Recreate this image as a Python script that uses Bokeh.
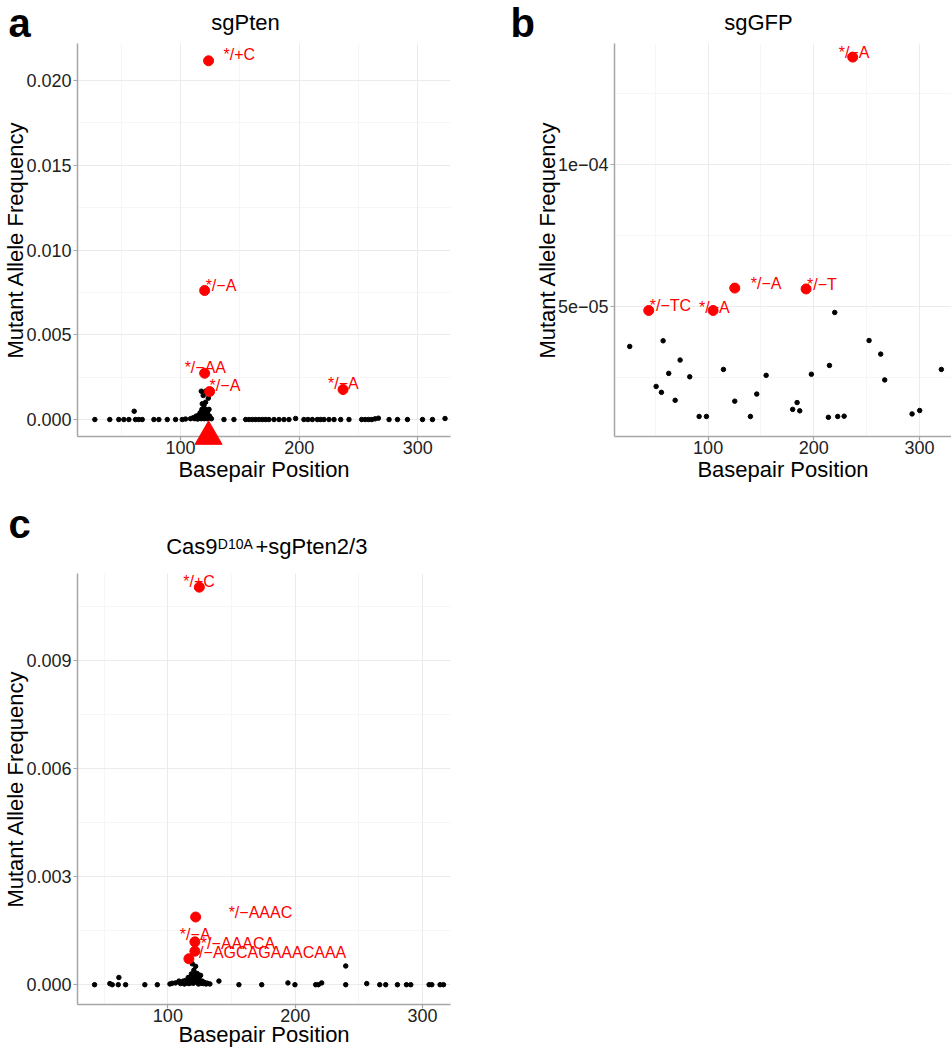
from bokeh.plotting import figure
from bokeh.layouts import column, row
from bokeh.models import ColumnDataSource, LabelSet, FixedTicker, Range1d, PrintfTickFormatter
from bokeh.core.properties import value
from bokeh.embed import file_html
from bokeh.resources import INLINE

FONT = "Liberation Sans"
RED = "#FF0000"

# ---------------- data ----------------
# panel a: sgPten
a_bg_x = [27.7, 40.3, 47.9, 52.2, 56.4, 60.9, 62.0, 64.8, 67.7, 77.5, 81.7, 88.8, 95.8, 101.4, 104.2, 108.4,
          136.6, 145.0, 154.9, 157.7, 160.5, 163.3, 166.1, 168.9, 171.7, 174.5, 178.8, 183.0, 187.2, 191.4,
          197.0, 204.0, 207.4, 211.1, 215.3, 218.1, 220.9, 225.1, 229.4, 235.0, 242.0, 252.7, 255.6, 258.4,
          261.2, 264.0, 266.8, 275.8, 282.9, 291.3, 304.0, 312.4, 323.0,
          110.5, 112.0, 113.0, 114.0, 114.5, 115.0, 116.0, 116.5, 117.0, 117.5, 118.0, 118.0, 118.5, 119.0,
          119.5, 120.0, 120.0, 120.5, 121.0, 121.0, 121.5, 122.0, 122.5, 123.0, 123.0, 123.5, 124.0, 124.5,
          125.0, 126.0, 117.5, 121.1, 119.1, 123.4, 121.1, 118.3, 119.7]
a_bg_y = [0, 0, 0, 0, 0, 0.00049, 0, 0, 0, 0, 0, 0, 0, 0, 0.00003, 0.00005,
          0, 0, 0, 0, 0, 0, 0, 0, 0, 0, 0, 0, 0, 0,
          0.00006, 0, 0, 0, 0, 0, 0, 0, 0, 0, 0, 0, 0, 0,
          0, 0.00004, 0.00008, 0, 0, 0, 0, 0, 0.00006,
          0.0001, 0.00005, 0.0002, 0.0001, 0.00003, 0.00025, 0.0001, 0.0004, 0.0002, 0.00005, 0.0006, 0.0003, 0.0001, 0.0004,
          0.0002, 0.0005, 0.00005, 0.0003, 0.0006, 0.0001, 0.0004, 0.0002, 0.00005, 0.0005, 0.0003, 0.0001, 0.0006, 0.0002,
          0.0001, 0.00005, 0.00167, 0.00167, 0.00142, 0.00126, 0.00102, 0.00093, 0.00083]
a_hit_x = [123.6, 120.3, 120.3, 124.5, 237.0]
a_hit_y = [0.02116, 0.00761, 0.00273, 0.00165, 0.00177]
a_hit_lab = ["*/+C", "*/\u2212A", "*/\u2212AA", "*/\u2212A", "*/\u2212A"]
a_cut_x = [123.6]
a_cut_y = [-0.001]
a_yticks = [0.0, 0.005, 0.010, 0.015, 0.020]

# panel b: sgGFP
b_bg_x = [25.8, 57.4, 73.5, 62.7, 82.6, 50.8, 55.8, 68.8, 91.5, 98.4, 114.5, 125.2, 140.0, 146.0, 154.9,
          180.0, 184.2, 186.7, 197.7, 213.8, 214.8, 219.8, 222.6, 228.7, 252.3, 263.3, 267.1, 293.0, 300.2, 320.7]
b_bg_y = [3.59e-5, 3.79e-5, 3.11e-5, 2.64e-5, 2.52e-5, 2.18e-5, 1.97e-5, 1.69e-5, 1.12e-5, 1.12e-5, 2.78e-5,
          1.66e-5, 1.12e-5, 1.91e-5, 2.57e-5, 1.37e-5, 1.61e-5, 1.32e-5, 2.61e-5, 1.09e-5, 2.92e-5, 4.79e-5,
          1.12e-5, 1.13e-5, 3.8e-5, 3.32e-5, 2.41e-5, 1.21e-5, 1.33e-5, 2.78e-5]
b_hit_x = [236.8, 43.8, 104.7, 125.2, 192.7]
b_hit_y = [1.38e-4, 4.86e-5, 4.86e-5, 5.65e-5, 5.62e-5]
b_hit_lab = ["*/\u2212A", "*/\u2212TC", "*/\u2212A", "*/\u2212A", "*/\u2212T"]
b_yticks = [5e-05, 1e-04]
b_ytick_labels = ["5e\u221205", "1e\u221204"]

# panel c: Cas9 D10A + sgPten2/3
c_bg_x = [42.4, 54.4, 56.3, 61.0, 61.5, 66.8, 81.9, 91.7, 140.1, 155.8, 173.7, 194.3, 199.8, 216.1, 218.2,
          220.8, 239.7, 239.7, 256.2, 266.4, 271.1, 280.3, 287.4, 290.8, 305.2, 307.3, 313.8, 316.5,
          101.6, 103.4, 106.0, 108.7, 110.0, 111.0, 112.0, 113.0, 114.0, 115.0, 116.0, 116.5, 117.0, 117.8,
          118.0, 118.5, 119.0, 119.2, 119.5, 120.0, 120.4, 121.0, 121.5, 121.8, 122.0, 122.5, 123.1, 123.5,
          124.0, 124.5, 125.0, 125.7, 126.0, 127.0, 128.0, 129.0, 130.0, 131.0, 133.0]
c_bg_y = [0, 0.00003, 0, 0, 0.0002, 0, 0, 0, 0.0001, 0, 0, 0.00005, 0, 0, 0,
          0.00005, 0.00052, 0, 0.00003, 0, 0, 0, 0, 0, 0, 0, 0, 0,
          0.00002, 0.00004, 0.00005, 0.0001, 0.00003, 0.00006, 0.0001, 0.00002, 0.00012, 0.00005, 0.0002, 0.00003, 0.0001, 0.00021,
          0.00005, 0.0003, 0.0001, 0.00058, 0.0002, 0.00004, 0.0004, 0.00015, 0.0003, 0.00051, 0.00008, 0.0002, 0.00031, 0.0001,
          0.00002, 0.0002, 0.00009, 0.00026, 0.00004, 0.0001, 0.00003, 0.00006, 0.00002, 0.00004, 0.00002]
c_hit_x = [124.7, 121.8, 121.2, 121.2, 116.5]
c_hit_y = [0.01104, 0.00188, 0.00119, 0.00093, 0.00072]
c_hit_lab = ["*/+C", "*/\u2212AAAC", "*/\u2212A", "*/\u2212AAACA", "*/\u2212AGCAGAAACAAA"]
c_yticks = [0.0, 0.003, 0.006, 0.009]

x_ticks = [100, 200, 300]
x_minor = [50, 150, 250]

titles = ["sgPten", "sgGFP"]
title_c = ["Cas9", "D10A", "+sgPten2/3"]
letters = ["a", "b", "c"]

# label offsets (screen px) for the red annotations
a_lab_dx = [15, 1, -20, 0, -15]
a_lab_dy = [6, 5, 6, 6, 6]
b_lab_dx = [-14, 1, -14, 16, 1]
b_lab_dy = [5, 5, 3, 5, 4]
c_lab_dx = [-16, 33, -15, 6, 4]
c_lab_dy = [6, 5, 7, 8, 6]


def make_panel(width, height, bl, br, bt, bb, xr, yr, yticks, yminor):
    p = figure(width=width, height=height, x_range=Range1d(*xr), y_range=Range1d(*yr),
               output_backend="svg", toolbar_location=None,
               min_border_left=bl, min_border_right=br, min_border_top=bt, min_border_bottom=bb)
    p.outline_line_color = None
    p.background_fill_color = "white"
    p.border_fill_color = "white"
    xt = FixedTicker(ticks=x_ticks, minor_ticks=x_minor)
    yt = FixedTicker(ticks=yticks, minor_ticks=yminor)
    p.xaxis.ticker = xt
    p.xgrid.ticker = xt
    p.yaxis.ticker = yt
    p.ygrid.ticker = yt
    for g in (p.xgrid, p.ygrid):
        g.grid_line_color = "#EBEBEB"
        g.grid_line_width = 1
        g.minor_grid_line_color = "#F2F2F2"
        g.minor_grid_line_width = 0.7
    for ax in (p.xaxis, p.yaxis):
        ax.axis_line_color = "#A6A6A6"
        ax.axis_line_width = 1.5
        ax.major_tick_line_color = "#A6A6A6"
        ax.major_tick_line_width = 1.2
        ax.major_tick_out = 4
        ax.major_tick_in = 0
        ax.minor_tick_line_color = None
        ax.major_label_text_font = FONT
        ax.major_label_text_font_size = "18px"
        ax.major_label_text_color = "#222222"
        ax.axis_label_text_font = FONT
        ax.axis_label_text_font_size = "22px"
        ax.axis_label_text_font_style = "normal"
        ax.axis_label_text_color = "black"
    p.xaxis.axis_label = "Basepair Position"
    p.yaxis.axis_label = "Mutant Allele Frequency"
    p.xaxis.major_label_standoff = 0
    p.yaxis.major_label_standoff = 2
    return p


def add_points(p, bx, by, hx, hy, labs, dx, dy):
    p.scatter(bx, by, size=4.5, color="black")
    src = ColumnDataSource(dict(x=hx, y=hy, lab=labs, xo=dx, yo=dy))
    p.scatter("x", "y", source=src, size=10, color=RED)
    p.add_layout(LabelSet(x="x", y="y", text="lab", x_offset="xo", y_offset="yo", source=src,
                          text_font=value(FONT), text_font_size="16px", text_color=RED,
                          text_baseline="middle", text_align="left"))


def add_heading(p, dxs, dys, texts, sizes, aligns, styles):
    # panel letter and title, anchored at the top-left corner of the plot frame, offsets in pixels
    n = len(texts)
    src = ColumnDataSource(dict(x=[p.x_range.start] * n, y=[p.y_range.end] * n, t=texts,
                                dx=dxs, dy=dys, s=sizes, a=aligns, st=styles))
    r = p.text(x="x", y="y", text="t", x_offset="dx", y_offset="dy", source=src,
               text_font=value(FONT), text_font_size="s", text_align="a", text_font_style="st",
               text_baseline="middle", text_color="black")
    r.level = "overlay"


# ---------------- panel a ----------------
pa = make_panel(480, 500, 77, 30, 43, 64, (13.1, 327.6), (-0.001, 0.02218),
                a_yticks, [0.0025, 0.0075, 0.0125, 0.0175])
pa.yaxis.formatter = PrintfTickFormatter(format="%.3f")
pa.yaxis.axis_label_standoff = -5
pa.xaxis.axis_label_standoff = 0
add_points(pa, a_bg_x, a_bg_y, a_hit_x, a_hit_y, a_hit_lab, a_lab_dx, a_lab_dy)
tri = pa.scatter(a_cut_x, a_cut_y, marker="triangle", size=27, color=RED)
tri.level = "overlay"
add_heading(pa, [-69, 168], [-20.5, -21.1], [letters[0], titles[0]],
            ["40px", "22px"], ["left", "center"], ["bold", "normal"])

# ---------------- panel b ----------------
pb = make_panel(471, 500, 134, 0, 43, 64, (11.4, 330.3), (4.13e-6, 1.428e-4),
                b_yticks, [2.5e-5, 7.5e-5, 1.25e-4])
pb.yaxis.major_label_overrides = {t: s for t, s in zip(b_yticks, b_ytick_labels)}
pb.yaxis.axis_label_standoff = -5
pb.xaxis.axis_label_standoff = 0
add_points(pb, b_bg_x, b_bg_y, b_hit_x, b_hit_y, b_hit_lab, b_lab_dx, b_lab_dy)
add_heading(pb, [-104, 144], [-20.5, -21.3], [letters[1], titles[1]],
            ["40px", "22px"], ["left", "center"], ["bold", "normal"])

# ---------------- panel c ----------------
pc = make_panel(480, 550, 77, 30, 73, 46, (29.0, 322.0), (-0.00055, 0.01142),
                c_yticks, [0.0015, 0.0045, 0.0075, 0.0105])
pc.yaxis.formatter = PrintfTickFormatter(format="%.3f")
pc.yaxis.axis_label_standoff = -5
pc.xaxis.axis_label_standoff = -3
add_points(pc, c_bg_x, c_bg_y, c_hit_x, c_hit_y, c_hit_lab, c_lab_dx, c_lab_dy)
add_heading(pc, [-69, 88.7, 140.3, 178], [-49.9, -26.6, -29.55, -26.6],
            [letters[2], title_c[0], title_c[1], title_c[2]],
            ["40px", "22px", "14px", "22px"], ["left", "left", "left", "left"],
            ["bold", "normal", "normal", "normal"])

layout = column(row(pa, pb), pc)
open("out.html", "w").write(file_html(layout, INLINE))
